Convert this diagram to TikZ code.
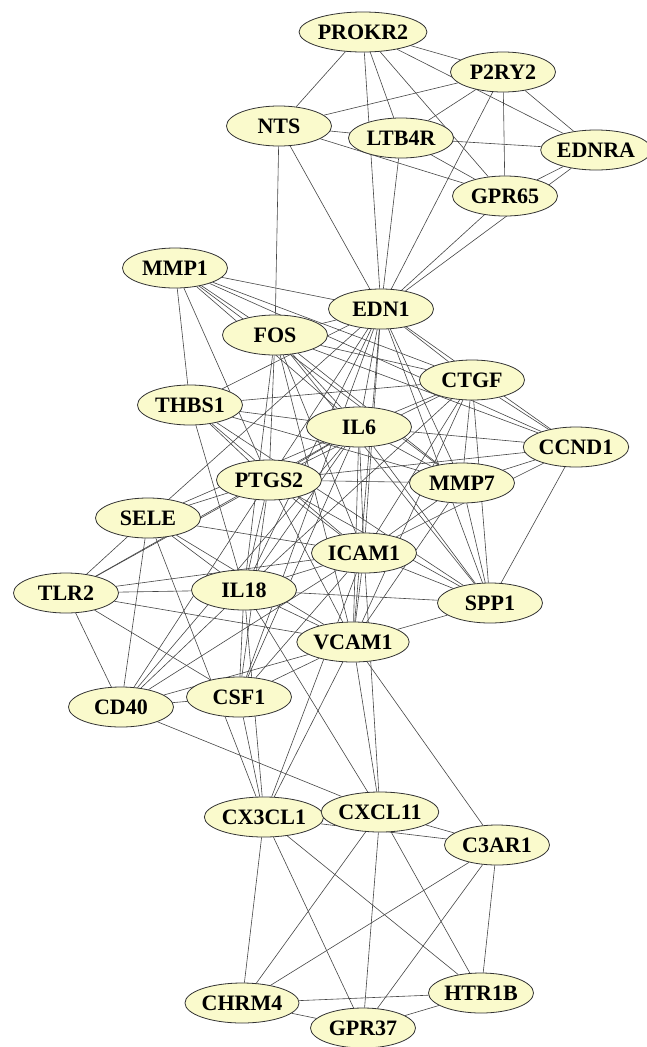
\documentclass[tikz,border=0pt]{standalone}
\usepackage{fontspec}
\setmainfont{Liberation Serif}
\usetikzlibrary{shapes.geometric,backgrounds}
\definecolor{nodefill}{RGB}{250,250,204}
\definecolor{edgecol}{RGB}{70,70,70}
\begin{document}
\begin{tikzpicture}[x=1pt,y=-1pt,
  gene/.style={ellipse,draw=black!80,line width=0.8pt,fill=nodefill,
    minimum width=105pt,minimum height=40pt,inner sep=0pt,
    font=\fontsize{22}{22}\selectfont\bfseries},
  link/.style={draw=edgecol,line width=0.6pt}]
\useasboundingbox (0,0) rectangle (646,1047);
% nodes
\node[gene] (PROKR2) at (363,32) {PROKR2};
\node[gene] (P2RY2) at (503,72) {P2RY2};
\node[gene] (NTS) at (279,126) {NTS};
\node[gene] (LTB4R) at (401,138) {LTB4R};
\node[gene] (EDNRA) at (596,150) {EDNRA};
\node[gene] (GPR65) at (505,196) {GPR65};
\node[gene] (MMP1) at (175,268) {MMP1};
\node[gene] (EDN1) at (381,309) {EDN1};
\node[gene] (FOS) at (275,335) {FOS};
\node[gene] (CTGF) at (472,380) {CTGF};
\node[gene] (THBS1) at (190,405) {THBS1};
\node[gene] (IL6) at (359,427) {IL6};
\node[gene] (CCND1) at (576,447) {CCND1};
\node[gene] (PTGS2) at (269,480) {PTGS2};
\node[gene] (MMP7) at (462,483) {MMP7};
\node[gene] (SELE) at (148,518) {SELE};
\node[gene] (ICAM1) at (364,553) {ICAM1};
\node[gene] (TLR2) at (66,593) {TLR2};
\node[gene] (IL18) at (244,590) {IL18};
\node[gene] (SPP1) at (490,603) {SPP1};
\node[gene] (VCAM1) at (353,642) {VCAM1};
\node[gene] (CD40) at (121,707) {CD40};
\node[gene] (CSF1) at (239,697) {CSF1};
\node[gene] (CX3CL1) at (264,817) {CX3CL1};
\node[gene] (CXCL11) at (380,812) {CXCL11};
\node[gene] (C3AR1) at (497,845) {C3AR1};
\node[gene] (CHRM4) at (242,1003) {CHRM4};
\node[gene] (HTR1B) at (481,993) {HTR1B};
\node[gene] (GPR37) at (363,1028) {GPR37};
\begin{pgfonlayer}{background}
\fill[white] (0,0) rectangle (646,1047);
\foreach \a/\b in {
  PROKR2/P2RY2, PROKR2/NTS, PROKR2/LTB4R, PROKR2/EDN1, PROKR2/GPR65, PROKR2/EDNRA,
  P2RY2/NTS, P2RY2/LTB4R, P2RY2/GPR65, P2RY2/EDNRA, P2RY2/EDN1,
  NTS/LTB4R, NTS/GPR65, NTS/FOS, NTS/EDN1,
  LTB4R/EDNRA, LTB4R/GPR65, LTB4R/EDN1,
  GPR65/EDNRA, GPR65/EDN1, EDNRA/EDN1,
  MMP1/EDN1, MMP1/FOS, MMP1/THBS1, MMP1/PTGS2, MMP1/IL6, MMP1/CTGF, MMP1/MMP7, MMP1/CCND1,
  EDN1/FOS, EDN1/THBS1, EDN1/CTGF, EDN1/CCND1, EDN1/IL6, EDN1/PTGS2, EDN1/MMP7,
  EDN1/ICAM1, EDN1/VCAM1, EDN1/SELE, EDN1/IL18, EDN1/CSF1, EDN1/SPP1,
  FOS/CTGF, FOS/CCND1, FOS/IL6, FOS/PTGS2, FOS/MMP7, FOS/ICAM1, FOS/VCAM1, FOS/SPP1, FOS/IL18,
  CTGF/THBS1, CTGF/IL6, CTGF/CCND1, CTGF/MMP7, CTGF/SPP1, CTGF/ICAM1, CTGF/VCAM1, CTGF/PTGS2, CTGF/IL18,
  THBS1/IL6, THBS1/PTGS2, THBS1/MMP7, THBS1/ICAM1, THBS1/SPP1, THBS1/IL18,
  IL6/PTGS2, IL6/MMP7, IL6/CCND1, IL6/ICAM1, IL6/VCAM1, IL6/SELE, IL6/TLR2, IL6/IL18,
  IL6/CSF1, IL6/CD40, IL6/SPP1,
  PTGS2/MMP7, PTGS2/CCND1, PTGS2/ICAM1, PTGS2/VCAM1, PTGS2/SELE, PTGS2/TLR2, PTGS2/IL18,
  PTGS2/CSF1, PTGS2/CD40, PTGS2/SPP1,
  MMP7/CCND1, MMP7/SPP1, MMP7/ICAM1, MMP7/VCAM1,
  CCND1/SPP1, CCND1/ICAM1,
  SELE/TLR2, SELE/IL18, SELE/ICAM1, SELE/VCAM1, SELE/CD40, SELE/CX3CL1,
  TLR2/IL18, TLR2/ICAM1, TLR2/VCAM1, TLR2/CD40, TLR2/CSF1,
  IL18/ICAM1, IL18/VCAM1, IL18/CSF1, IL18/CD40, IL18/SPP1, IL18/CXCL11, IL18/CX3CL1,
  CD40/CSF1, CD40/ICAM1, CD40/VCAM1, CD40/CXCL11,
  CSF1/VCAM1, CSF1/ICAM1, CSF1/CX3CL1,
  ICAM1/VCAM1, ICAM1/SPP1, ICAM1/CX3CL1, ICAM1/CXCL11,
  VCAM1/SPP1, VCAM1/CX3CL1, VCAM1/CXCL11, VCAM1/C3AR1,
  CX3CL1/CXCL11, CX3CL1/C3AR1, CX3CL1/CHRM4, CX3CL1/GPR37, CX3CL1/HTR1B,
  CXCL11/C3AR1, CXCL11/CHRM4, CXCL11/GPR37, CXCL11/HTR1B,
  C3AR1/CHRM4, C3AR1/GPR37, C3AR1/HTR1B,
  CHRM4/HTR1B, CHRM4/GPR37, GPR37/HTR1B}
  \draw[link] (\a) -- (\b);
\end{pgfonlayer}
\end{tikzpicture}
\end{document}
